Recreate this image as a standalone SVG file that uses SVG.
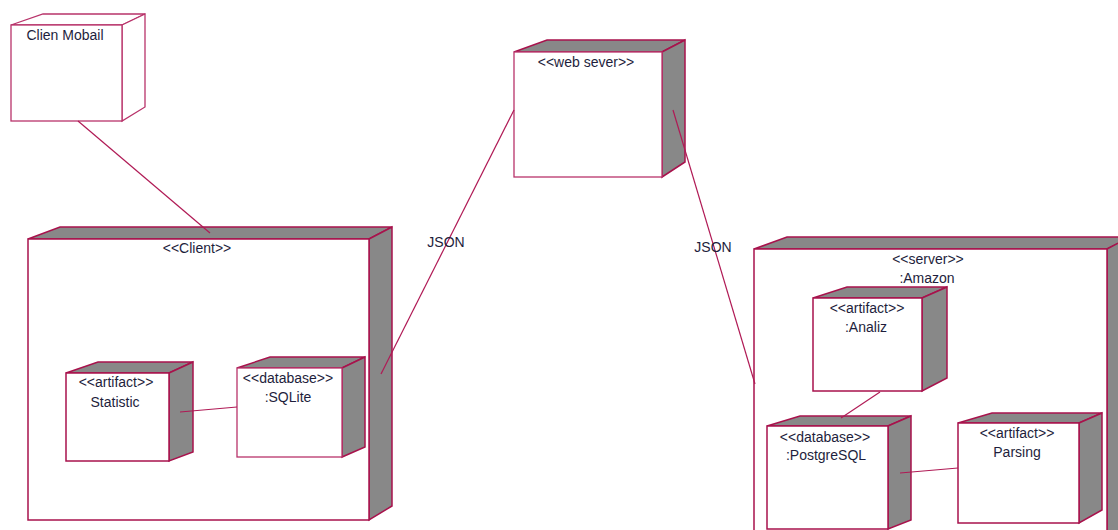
<svg xmlns="http://www.w3.org/2000/svg" width="1118" height="530" viewBox="0 0 1118 530">
<style>
.f{fill:#fff;stroke:#a8124c;stroke-width:1.5;stroke-linejoin:miter}
.g{fill:#888;stroke:#a8124c;stroke-width:1.5;stroke-linejoin:miter}
.w{fill:#fff;stroke:#b8336a;stroke-width:1.3}
.c{fill:none;stroke:#b01a55;stroke-width:1.2}
text{font-family:"Liberation Sans",Arial,sans-serif;font-size:14px;fill:#1e1e3c;text-anchor:middle}
</style>
<rect width="1118" height="530" fill="#fff"/>
<g id="clien-mobail">
<polygon class="w" points="11,25 43,14 145,14 122,25"/>
<polygon class="w" points="122,25 145,14 145,107 122,121"/>
<rect class="w" x="11" y="25" width="111" height="96"/>
<text x="65" y="40">Clien Mobail</text>
</g>
<g id="web-server">
<polygon class="g" points="514,52 547,40 685,40 662,52"/>
<polygon class="g" points="662,52 685,40 685,162 662,177"/>
<rect class="w" x="514" y="52" width="148" height="125"/>
<text x="586" y="67">&lt;&lt;web sever&gt;&gt;</text>
</g>
<g id="client">
<polygon class="g" points="28,239 60,227 392,227 369,239"/>
<polygon class="g" points="369,239 392,227 392,506 369,520"/>
<rect class="f" x="28" y="239" width="341" height="281"/>
<text x="197" y="253">&lt;&lt;Client&gt;&gt;</text>
</g>
<g id="statistic">
<polygon class="g" points="66,373 98,362 193,362 169,373"/>
<polygon class="g" points="169,373 193,362 193,452 169,461"/>
<rect class="f" x="66" y="373" width="103" height="88"/>
<text x="116" y="387">&lt;&lt;artifact&gt;&gt;</text>
<text x="115" y="407">Statistic</text>
</g>
<g id="sqlite">
<polygon class="g" points="237,368 270,357 365,357 342,368"/>
<polygon class="g" points="342,368 365,357 365,447 342,457"/>
<rect class="w" x="237" y="368" width="105" height="89"/>
<text x="288" y="383">&lt;&lt;database&gt;&gt;</text>
<text x="288" y="402">:SQLite</text>
</g>
<g id="amazon">
<polygon class="g" points="754,249 787,237 1130,237 1107,249"/>
<polygon class="g" points="1107,249 1130,237 1130,540 1107,540"/>
<rect class="f" x="754" y="249" width="353" height="291"/>
<text x="928" y="264">&lt;&lt;server&gt;&gt;</text>
<text x="927" y="283">:Amazon</text>
</g>
<g id="analiz">
<polygon class="g" points="813,298 847,287 947,287 922,298"/>
<polygon class="g" points="922,298 947,287 947,378 922,391"/>
<rect class="f" x="813" y="298" width="109" height="93"/>
<text x="867" y="313">&lt;&lt;artifact&gt;&gt;</text>
<text x="866" y="332">:Analiz</text>
</g>
<g id="postgresql">
<polygon class="g" points="767,426 800,416 911,416 888,426"/>
<polygon class="g" points="888,426 911,416 911,520 888,529"/>
<rect class="f" x="767" y="426" width="121" height="103"/>
<text x="825" y="442">&lt;&lt;database&gt;&gt;</text>
<text x="826" y="460">:PostgreSQL</text>
</g>
<g id="parsing">
<polygon class="g" points="958,423 992,413 1102,413 1079,423"/>
<polygon class="g" points="1079,423 1102,413 1102,510 1079,523"/>
<rect class="f" x="958" y="423" width="121" height="100"/>
<text x="1017" y="438">&lt;&lt;artifact&gt;&gt;</text>
<text x="1017" y="457">Parsing</text>
</g>
<g id="connectors">
<line class="c" x1="78" y1="121" x2="210" y2="233"/>
<line class="c" x1="514" y1="110" x2="381" y2="374"/>
<line class="c" x1="673" y1="110" x2="755" y2="384"/>
<line class="c" x1="180" y1="412" x2="237" y2="407"/>
<line class="c" x1="880" y1="392" x2="841" y2="418"/>
<line class="c" x1="900" y1="473" x2="958" y2="468"/>
<text x="446" y="247">JSON</text>
<text x="713" y="252">JSON</text>
</g>
</svg>
